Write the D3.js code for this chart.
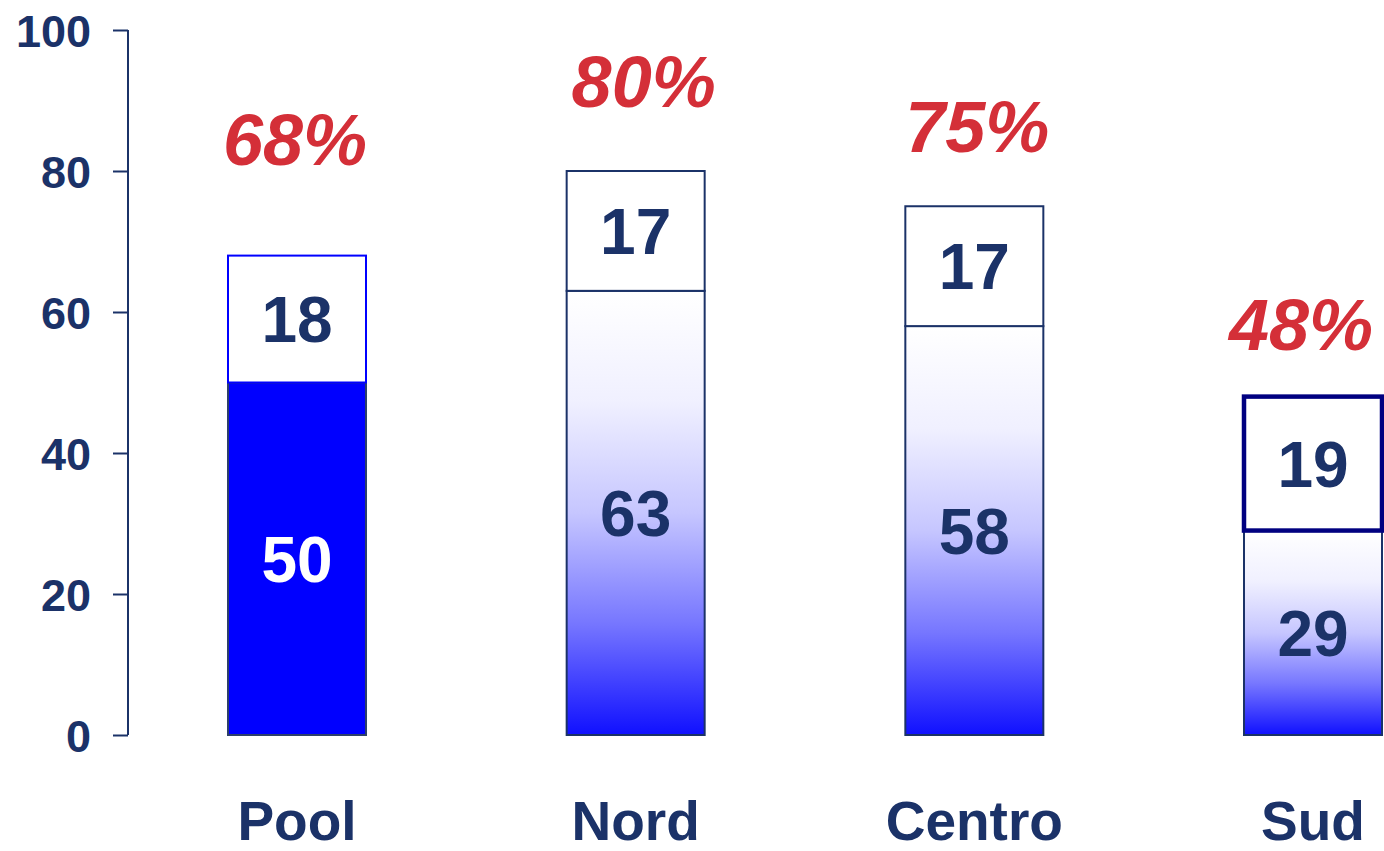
<!DOCTYPE html>
<html>
<head>
<meta charset="utf-8">
<script src="https://cdn.jsdelivr.net/npm/d3@7"></script>
<style>
  body { margin: 0; background: #fff; }
  text { font-family: "Liberation Sans", Arial, sans-serif; font-weight: bold; }
</style>
</head>
<body>
<div id="chart"></div>
<script>
// data
var categories = ["Pool", "Nord", "Centro", "Sud"];
var lowerValues = [50, 63, 58, 29];
var upperValues = [18, 17, 17, 19];
var pctLabels = ["68%", "80%", "75%", "48%"];
var pctLabelAt = [80.9, 89.1, 82.7, 54.6]; // baseline height in axis units
var yTicks = [0, 20, 40, 60, 80, 100];

var navy = "#1b3268";
var red = "#d42f38";

var svg = d3.select("#chart")
    .append("svg")
    .attr("width", 1384)
    .attr("height", 851);

var y = d3.scaleLinear().domain([0, 100]).range([735, 30]);
var x = d3.scalePoint().domain(categories).range([297, 1313]);
var barW = 138;
var pctShift = [-2, 8, 3, -12]; // small horizontal nudges of the red labels

// gradient for the bars with shading
var defs = svg.append("defs");
var grad = defs.append("linearGradient")
    .attr("id", "blueGrad")
    .attr("x1", 0).attr("y1", 0).attr("x2", 0).attr("y2", 1);
[[0, "#ffffff"], [0.25, "#f0f0ff"], [0.5, "#c6c6ff"], [0.75, "#7676ff"], [1, "#1010ff"]]
    .forEach(function (s) {
        grad.append("stop").attr("offset", s[0]).attr("stop-color", s[1]);
    });

// axis
var axis = d3.axisLeft(y).tickValues(yTicks).tickSize(15).tickPadding(22);
var gAxis = svg.append("g")
    .attr("transform", "translate(128,0)")
    .call(axis);
gAxis.select(".domain").attr("stroke", navy).attr("stroke-width", 2).attr("d", "M0,30V735");
gAxis.selectAll(".tick line").attr("stroke", navy).attr("stroke-width", 2);
gAxis.selectAll(".tick text")
    .attr("fill", navy)
    .style("font-size", "45px")
    .style("font-family", "Liberation Sans, Arial, sans-serif")
    .style("font-weight", "bold")
    .attr("dy", "0.36em");

var rows = categories.map(function (c, i) {
    return { cat: c, lo: lowerValues[i], up: upperValues[i], pct: pctLabels[i], pctY: pctLabelAt[i], i: i };
});

var bars = svg.selectAll("g.bar")
    .data(rows)
    .enter()
    .append("g")
    .attr("class", "bar");

// lower segment
bars.append("rect")
    .attr("x", function (d) { return x(d.cat) - barW / 2; })
    .attr("y", function (d) { return y(d.lo); })
    .attr("width", barW)
    .attr("height", function (d) { return y(0) - y(d.lo); })
    .attr("fill", function (d) { return d.i === 0 ? "#0000ff" : "url(#blueGrad)"; })
    .attr("stroke", function (d) { return d.i === 0 ? "#2d3f6a" : navy; })
    .attr("stroke-width", 2);

// upper segment
bars.append("rect")
    .attr("x", function (d) { return x(d.cat) - barW / 2; })
    .attr("y", function (d) { return y(d.lo + d.up); })
    .attr("width", barW)
    .attr("height", function (d) { return y(d.lo) - y(d.lo + d.up); })
    .attr("fill", "#ffffff")
    .attr("stroke", function (d) {
        if (d.i === 0) return "#0000ff";
        if (d.i === 3) return "#000080";
        return navy;
    })
    .attr("stroke-width", function (d) { return d.i === 3 ? 4.5 : 2; });

// segment labels
bars.append("text")
    .attr("x", function (d) { return x(d.cat); })
    .attr("y", function (d) { return y(d.lo / 2); })
    .attr("dy", "0.36em")
    .attr("text-anchor", "middle")
    .attr("fill", function (d) { return d.i === 0 ? "#ffffff" : navy; })
    .style("font-size", "64px")
    .text(function (d) { return d.lo; });

bars.append("text")
    .attr("x", function (d) { return x(d.cat); })
    .attr("y", function (d) { return y(d.lo + d.up / 2); })
    .attr("dy", "0.36em")
    .attr("text-anchor", "middle")
    .attr("fill", navy)
    .style("font-size", "64px")
    .text(function (d) { return d.up; });

// percentage labels
bars.append("text")
    .attr("x", function (d) { return x(d.cat) + pctShift[d.i]; })
    .attr("y", function (d) { return y(d.pctY); })
    .attr("text-anchor", "middle")
    .attr("fill", red)
    .style("font-size", "72px")
    .style("font-style", "italic")
    .text(function (d) { return d.pct; });

// category labels
svg.selectAll("text.cat")
    .data(categories)
    .enter()
    .append("text")
    .attr("class", "cat")
    .attr("x", function (d) { return x(d); })
    .attr("y", 840)
    .attr("text-anchor", "middle")
    .attr("fill", navy)
    .style("font-size", "55px")
    .text(function (d) { return d; });
</script>
</body>
</html>
